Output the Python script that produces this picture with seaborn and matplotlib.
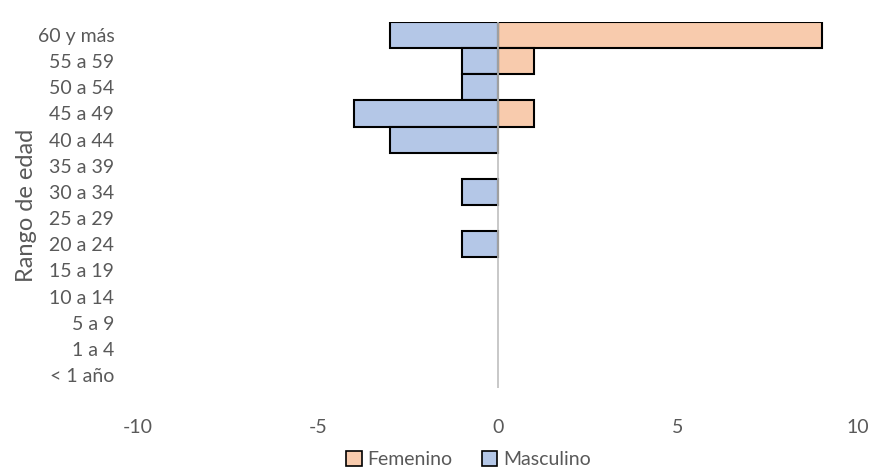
import matplotlib
matplotlib.use("Agg")
import matplotlib.pyplot as plt
import seaborn as sns
import pandas as pd
from matplotlib.patches import Patch

categories = ["60 y más", "55 a 59", "50 a 54", "45 a 49", "40 a 44", "35 a 39",
              "30 a 34", "25 a 29", "20 a 24", "15 a 19", "10 a 14", "5 a 9",
              "1 a 4", "< 1 año"]
femenino = [9, 1, 0, 1, 0, 0, 0, 0, 0, 0, 0, 0, 0, 0]
masculino = [-3, -1, -1, -4, -3, 0, -1, 0, -1, 0, 0, 0, 0, 0]
series = ["Femenino", "Masculino"]
colors = {"Femenino": "#F8CBAD", "Masculino": "#B4C7E7"}
xticks = [-10, -5, 0, 5, 10]

rows = []
for c, f, m in zip(categories, femenino, masculino):
    if f != 0:
        rows.append({"Rango": c, "Valor": f, "Sexo": "Femenino"})
    if m != 0:
        rows.append({"Rango": c, "Valor": m, "Sexo": "Masculino"})
df = pd.DataFrame(rows)

sns.set_style("white")
plt.rcParams["font.family"] = ["Lato", "DejaVu Sans"]
grey = "#595959"

fig = plt.figure(figsize=(8.76, 4.67), dpi=100)
ax = fig.add_axes([0.1575, 0.169, 0.822, 0.784])
sns.barplot(data=df, y="Rango", x="Valor", hue="Sexo", order=categories,
            hue_order=series, palette=colors, dodge=False, width=1.0, saturation=1,
            orient="h", edgecolor="black", linewidth=1.5, ax=ax, legend=False)
ax.axvline(0, color="#BFBFBF", lw=1.2, zorder=3)
ax.set_xlim(-10, 10)
ax.set_ylim(len(categories) - 0.5, -0.5)
ax.set_xticks(xticks)
ax.set_xticklabels([str(t) for t in xticks])
for s in ax.spines.values():
    s.set_visible(False)
ax.tick_params(axis="x", length=0, pad=22, labelsize=14, labelcolor=grey)
ax.tick_params(axis="y", length=0, pad=17, labelsize=14, labelcolor=grey)
ax.set_xlabel("")
ax.set_ylabel("Rango de edad", fontsize=17, color=grey, labelpad=0)
ax.yaxis.set_label_coords(-0.14, 0.5)

handles = [Patch(facecolor=colors[s], edgecolor="black", linewidth=1.2, label=s) for s in series]
fig.legend(handles=handles, loc="lower center", bbox_to_anchor=(0.535, -0.04), ncol=2,
           frameon=False, fontsize=14, labelcolor=grey, handlelength=0.8, handleheight=0.8,
           handletextpad=0.3, columnspacing=1.5)

fig.savefig("out.png", dpi=100)
